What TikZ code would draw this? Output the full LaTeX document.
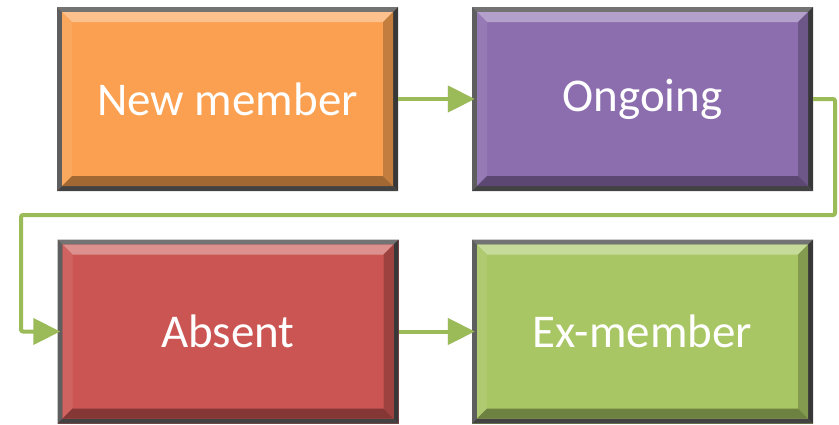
\documentclass[tikz,border=0pt]{standalone}
\usepackage{fontspec}
\setmainfont{Carlito}
\usetikzlibrary{calc,arrows.meta}

\definecolor{stOrange}{RGB}{250,160,80}
\definecolor{stPurple}{RGB}{140,110,175}
\definecolor{stRed}{RGB}{203,85,82}
\definecolor{stGreen}{RGB}{168,198,100}
\definecolor{flowGreen}{RGB}{155,187,89}

\tikzset{
  stage/.style={
    minimum width=341pt, minimum height=184pt, inner sep=0pt,
    text=white, font=\fontsize{47}{56}\selectfont,
    fill=#1,
    path picture={
      \coordinate (A) at (path picture bounding box.north west);
      \coordinate (B) at (path picture bounding box.north east);
      \coordinate (C) at (path picture bounding box.south east);
      \coordinate (D) at (path picture bounding box.south west);
      % dark outer frame
      \fill[black!55] (A) -- (B) -- ($(B)+(-5pt,-5pt)$) -- ($(A)+(5pt,-5pt)$) -- cycle;
      \fill[black!63] (A) -- ($(A)+(5pt,-5pt)$) -- ($(D)+(5pt,5pt)$) -- (D) -- cycle;
      \fill[black!78] (B) -- (C) -- ($(C)+(-5pt,5pt)$) -- ($(B)+(-5pt,-5pt)$) -- cycle;
      \fill[black!74] (D) -- ($(D)+(5pt,5pt)$) -- ($(C)+(-5pt,5pt)$) -- (C) -- cycle;
      % bevel inside the frame
      \fill[#1!65!white] ($(A)+(5pt,-5pt)$) -- ($(B)+(-5pt,-5pt)$) -- ($(B)+(-15pt,-15pt)$) -- ($(A)+(15pt,-15pt)$) -- cycle;
      \fill[#1!92!white] ($(A)+(5pt,-5pt)$) -- ($(A)+(15pt,-15pt)$) -- ($(D)+(15pt,15pt)$) -- ($(D)+(5pt,5pt)$) -- cycle;
      \fill[#1!78!black] ($(B)+(-5pt,-5pt)$) -- ($(C)+(-5pt,5pt)$) -- ($(C)+(-15pt,15pt)$) -- ($(B)+(-15pt,-15pt)$) -- cycle;
      \fill[#1!65!black] ($(D)+(5pt,5pt)$) -- ($(D)+(15pt,15pt)$) -- ($(C)+(-15pt,15pt)$) -- ($(C)+(-5pt,5pt)$) -- cycle;
    }
  },
  flow/.style={draw=flowGreen, line width=4pt,
    -{Triangle[length=27pt,width=26pt]}, shorten >=-3pt},
  flowshadow/.style={draw=black, opacity=0.12, line width=4pt,
    -{Triangle[length=27pt,width=26pt]}, shorten >=-3pt}
}

\begin{document}
\begin{tikzpicture}[x=1pt,y=-1pt]
  \useasboundingbox (0,0) rectangle (839,424);

  \node[stage=stOrange] (newmember) at (227.5,99)  {New member};
  \node[stage=stPurple] (ongoing)   at (642.5,99)  {Ongoing};
  \node[stage=stRed]    (absent)    at (228,331.5) {Absent};
  \node[stage=stGreen]  (exmember)  at (642.5,331.5) {Ex-member};

  \coordinate (turnR) at (835,215);
  \coordinate (turnL) at (21,215);

  % soft shadows under the connectors
  \begin{scope}[shift={(1.5,2.5)}]
    \draw[flowshadow] (newmember.east) -- (ongoing.west);
    \draw[flowshadow] (absent.east) -- (exmember.west);
  \end{scope}

  % connectors
  \draw[flow] (newmember.east) -- (ongoing.west);
  \draw[flow, rounded corners=2pt] (ongoing.east) -| (turnR) -- (turnL) |- (absent.west);
  \draw[flow] (absent.east) -- (exmember.west);
\end{tikzpicture}
\end{document}
